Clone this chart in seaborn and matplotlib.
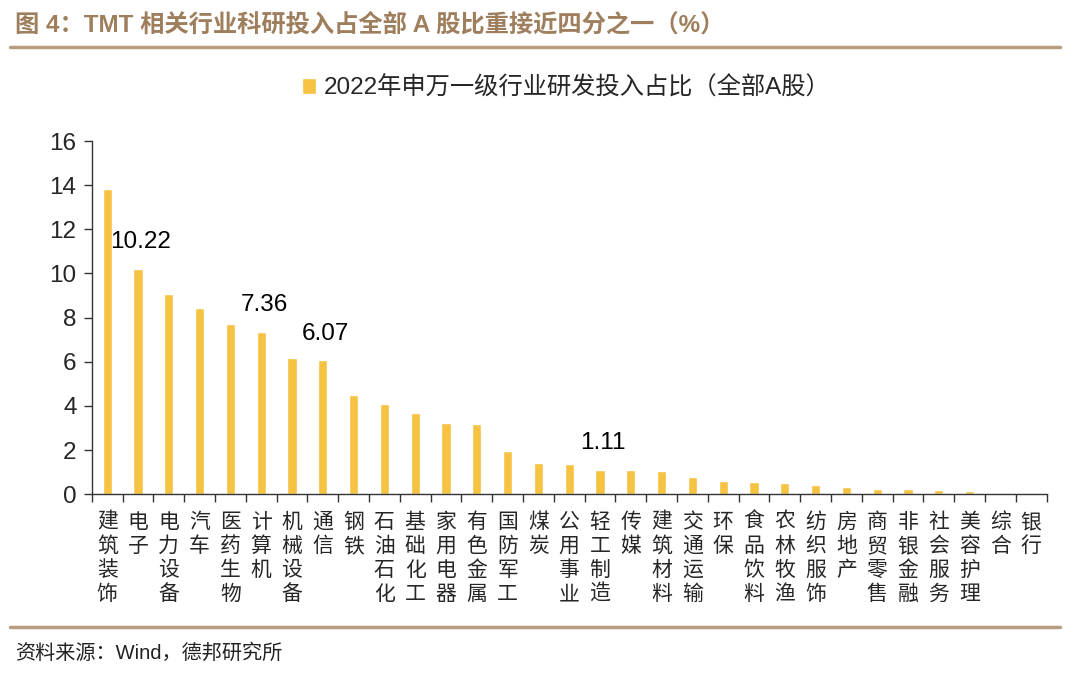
import matplotlib
matplotlib.use("Agg")
import matplotlib.pyplot as plt
import seaborn as sns
import pandas as pd
import numpy as np

# data
industries = ["建筑装饰", "电子", "电力设备", "汽车", "医药生物", "计算机", "机械设备", "通信",
              "钢铁", "石油石化", "基础化工", "家用电器", "有色金属", "国防军工", "煤炭", "公用事业",
              "轻工制造", "传媒", "建筑材料", "交通运输", "环保", "食品饮料", "农林牧渔", "纺织服饰",
              "房地产", "商贸零售", "非银金融", "社会服务", "美容护理", "综合", "银行"]
share = [13.84, 10.22, 9.05, 8.44, 7.73, 7.36, 6.16, 6.07,
         4.48, 4.11, 3.68, 3.21, 3.19, 1.96, 1.42, 1.39,
         1.11, 1.10, 1.07, 0.77, 0.60, 0.57, 0.52, 0.41,
         0.35, 0.26, 0.23, 0.20, 0.15, 0.02, 0.0]
labelled = ["电子", "计算机", "通信", "轻工制造"]
series_name = "2022年申万一级行业研发投入占比（全部A股）"
title = "图 4：TMT 相关行业科研投入占全部 A 股比重接近四分之一（%）"
source = "资料来源：Wind，德邦研究所"

sns.set_theme(style="white")
plt.rcParams["font.family"] = ["Liberation Sans", "Noto Sans CJK SC", "DejaVu Sans"]

BAR = "#F5C242"
BROWN = "#9E7E5C"
LINE = "#B89E80"

df = pd.DataFrame({"industry": industries, "share": share})

fig = plt.figure(figsize=(10.8, 6.78), dpi=100)
ax = fig.add_axes([0.085, 0.271, 0.884, 0.521])

sns.barplot(data=df, x="industry", y="share", color=BAR, width=0.3,
            saturation=1, ax=ax, label=series_name)

ax.set_ylim(0, 16)
ax.set_xlim(-0.5, len(industries) - 0.5)
ax.set_yticks(range(0, 17, 2))
ax.tick_params(axis="y", labelsize=17.5, length=6, width=1, color="#333333", pad=5, left=True)
ax.set_xlabel("")
ax.set_ylabel("")

# category boundary ticks on x
ax.set_xticks(np.arange(-0.5, len(industries), 1), minor=True)
ax.tick_params(axis="x", which="minor", length=6, width=1, color="#333333", bottom=True)
ax.tick_params(axis="x", which="major", length=0, pad=12)
ax.set_xticks(range(len(industries)))
ax.set_xticklabels(["\n".join(s) for s in industries], fontsize=15,
                   linespacing=1.12, va="top", family=["Noto Sans CJK SC"])

for s in ["top", "right"]:
    ax.spines[s].set_visible(False)
for s in ["left", "bottom"]:
    ax.spines[s].set_color("#333333")
    ax.spines[s].set_linewidth(1)

for i, (name, v) in enumerate(zip(industries, share)):
    if name in labelled:
        ax.annotate(f"{v:.2f}", (i, v), xytext=(2, 19), textcoords="offset points",
                    ha="center", va="center", fontsize=17.5, color="black")

leg = ax.legend(loc="center", bbox_to_anchor=(566 / 1080, 1 - 88 / 678),
                bbox_transform=fig.transFigure, frameon=False, fontsize=17.5,
                handlelength=0.6, handleheight=0.6, handletextpad=0.3)

fig.text(15 / 1080, 1 - 25 / 678, title, fontsize=17.5, fontweight="bold",
         color=BROWN, va="center", ha="left")
fig.add_artist(plt.Line2D([10 / 1080, 1060 / 1080], [1 - 47 / 678] * 2,
                          color=LINE, lw=2.5, transform=fig.transFigure))
fig.add_artist(plt.Line2D([10 / 1080, 1060 / 1080], [1 - 627 / 678] * 2,
                          color=LINE, lw=2.5, transform=fig.transFigure))
fig.text(15 / 1080, 1 - 653 / 678, source, fontsize=14.5, color="#222222",
         va="center", ha="left")

fig.savefig("out.png", dpi=100)
